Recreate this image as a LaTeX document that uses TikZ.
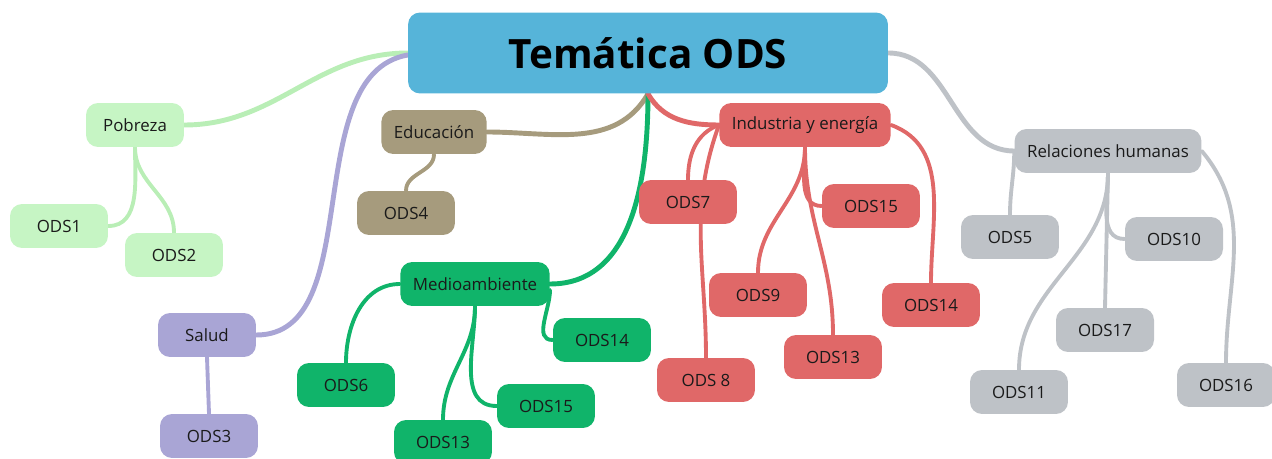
\documentclass[tikz,border=0pt]{standalone}
\usepackage{fontspec}
\setmainfont{Open Sans}
\usetikzlibrary{backgrounds}
\definecolor{raiz}{HTML}{56B4D9}
\definecolor{pobc}{HTML}{C6F5C4}
\definecolor{pobl}{HTML}{B9EEB6}
\definecolor{salc}{HTML}{A9A5D5}
\definecolor{educ}{HTML}{A69B7D}
\definecolor{medc}{HTML}{10B46A}
\definecolor{indc}{HTML}{E06868}
\definecolor{relc}{HTML}{BEC2C7}
\definecolor{texto}{HTML}{1A1A1A}
\tikzset{
  tema/.style={rounded corners=0.24cm, minimum width=1.96cm, minimum height=0.88cm,
    inner xsep=0.25cm, text=texto, font=\fontsize{9.6}{12}\selectfont},
  raizbox/.style={tema, fill=raiz, minimum width=9.6cm, minimum height=1.62cm,
    font=\fontsize{23}{28}\selectfont\bfseries, text=black},
  rama/.style={line width=2.8pt, line cap=round},
  hoja/.style={line width=2.2pt, line cap=round}
}
\begin{document}
\begin{tikzpicture}[x=0.02cm, y=-0.02cm]
  \useasboundingbox (0,0) rectangle (1272,459);
  \node[raizbox] (raiz) at (648,53) {Temática ODS};
  \node[tema, fill=pobc] (pob) at (135,125) {Pobreza};
  \node[tema, fill=pobc] (ods1) at (59,226) {ODS1};
  \node[tema, fill=pobc] (ods2) at (174,255) {ODS2};
  \node[tema, fill=salc] (sal) at (207,335) {Salud};
  \node[tema, fill=salc] (ods3) at (209,436) {ODS3};
  \node[tema, fill=educ] (edu) at (434,132) {Educación};
  \node[tema, fill=educ] (ods4) at (406,213) {ODS4};
  \node[tema, fill=medc] (med) at (475,284) {Medioambiente};
  \node[tema, fill=medc] (m6) at (346,385) {ODS6};
  \node[tema, fill=medc] (m13) at (443,442) {ODS13};
  \node[tema, fill=medc] (m15) at (546,406) {ODS15};
  \node[tema, fill=medc] (m14) at (602,340) {ODS14};
  \node[tema, fill=indc] (ind) at (805,125) {Industria y energía};
  \node[tema, fill=indc] (i7) at (688,202) {ODS7};
  \node[tema, fill=indc] (i8) at (706,380) {ODS 8};
  \node[tema, fill=indc] (i9) at (758,295) {ODS9};
  \node[tema, fill=indc] (i15) at (871,206) {ODS15};
  \node[tema, fill=indc] (i13) at (833,357) {ODS13};
  \node[tema, fill=indc] (i14) at (931,305) {ODS14};
  \node[tema, fill=relc] (rel) at (1108,151) {Relaciones humanas};
  \node[tema, fill=relc] (r5) at (1010,237) {ODS5};
  \node[tema, fill=relc] (r10) at (1174,239) {ODS10};
  \node[tema, fill=relc] (r17) at (1105,330) {ODS17};
  \node[tema, fill=relc] (r11) at (1019,392) {ODS11};
  \node[tema, fill=relc] (r16) at (1226,385) {ODS16};
  \begin{pgfonlayer}{background}
    \draw[rama, pobl] (raiz.west) to[out=180,in=0] (pob.east);
    \draw[rama, salc] ([yshift=-0.04cm]raiz.west) to[out=190,in=0,looseness=0.9] (sal.east);
    \draw[rama, educ] (raiz.south) to[out=240,in=0] (edu.east);
    \draw[rama, medc] (raiz.south) to[out=270,in=0] (med.east);
    \draw[rama, indc] (raiz.south) to[out=300,in=180] (ind.west);
    \draw[rama, relc] (raiz.east) to[out=0,in=180] (rel.west);
    \draw[hoja, pobl] (pob.south) to[out=270,in=0] (ods1.east);
    \draw[hoja, pobl] (pob.south) to[out=270,in=90] (ods2.north);
    \draw[hoja, salc] (sal.south) -- (ods3.north);
    \draw[hoja, educ] (edu.south) to[out=270,in=90] (ods4.north);
    \draw[hoja, medc] (med.west) to[out=180,in=90] (m6.north);
    \draw[hoja, medc] (med.south) to[out=270,in=90] (m13.north);
    \draw[hoja, medc] (med.south) to[out=270,in=180] (m15.west);
    \draw[hoja, medc] ([yshift=-0.12cm]med.east) to[out=270,in=180] (m14.west);
    \draw[hoja, indc] (ind.west) to[out=200,in=90] (i7.north);
    \draw[hoja, indc] (ind.west) to[out=250,in=90] (i8.north);
    \draw[hoja, indc] (ind.south) to[out=270,in=90] (i9.north);
    \draw[hoja, indc] (ind.south) to[out=270,in=180] (i15.west);
    \draw[hoja, indc] (ind.south) to[out=270,in=90] (i13.north);
    \draw[hoja, indc] (ind.east) to[out=-20,in=90] (i14.north);
    \draw[hoja, relc] (rel.west) to[out=270,in=90] (r5.north);
    \draw[hoja, relc] (rel.south) to[out=270,in=90] (r11.north);
    \draw[hoja, relc] (rel.south) -- (r17.north);
    \draw[hoja, relc] (rel.south) to[out=270,in=180] (r10.west);
    \draw[hoja, relc] (rel.east) to[out=-50,in=90] (r16.north);
  \end{pgfonlayer}
\end{tikzpicture}
\end{document}
